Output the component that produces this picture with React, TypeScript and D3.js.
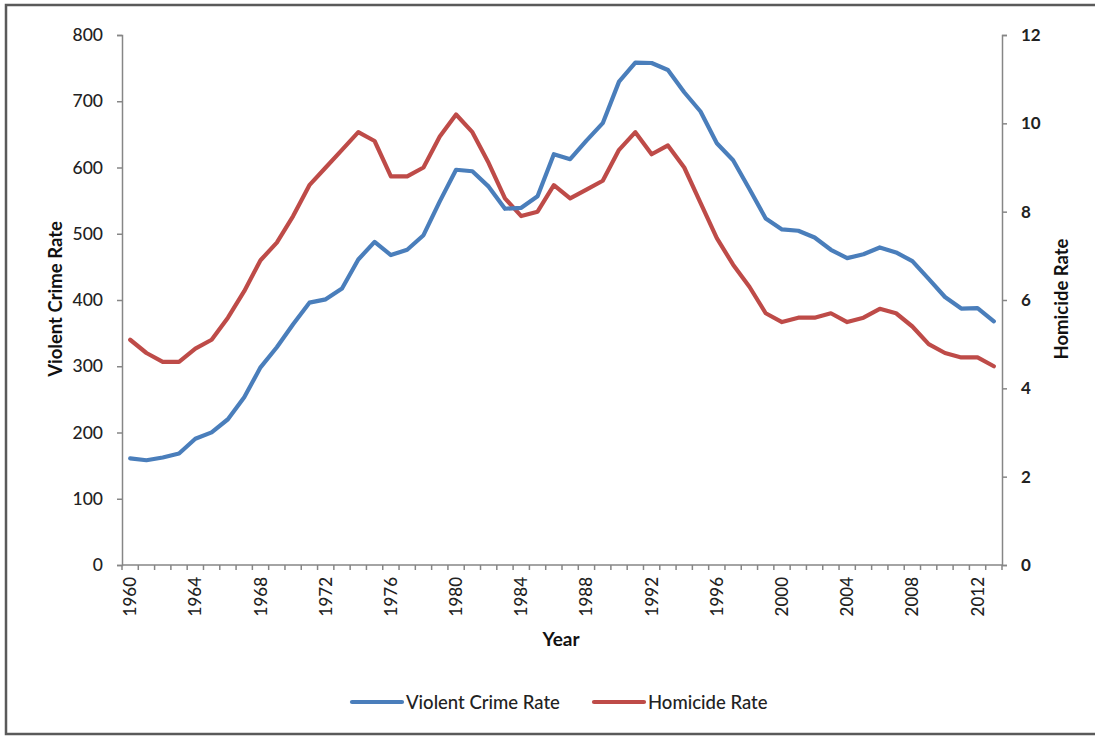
import React, { useRef, useEffect } from 'react';
import * as d3 from 'd3';

// US violent crime and homicide rates per 100,000
const years = d3.range(1960, 2014);
const violentCrime = [
  160.9, 158.1, 162.3, 168.2, 190.6, 200.2, 220.0, 253.2, 298.4, 328.7,
  363.5, 396.0, 401.0, 417.4, 461.1, 487.8, 467.8, 475.9, 497.8, 548.9,
  596.6, 594.3, 571.1, 537.7, 539.2, 556.6, 620.1, 612.5, 640.6, 666.9,
  729.6, 758.2, 757.7, 747.1, 713.6, 684.5, 636.6, 611.0, 567.6, 523.0,
  506.5, 504.5, 494.4, 475.8, 463.2, 469.0, 479.3, 471.8, 458.6, 431.9,
  404.5, 387.1, 387.8, 367.9,
];
const homicide = [
  5.1, 4.8, 4.6, 4.6, 4.9, 5.1, 5.6, 6.2, 6.9, 7.3,
  7.9, 8.6, 9.0, 9.4, 9.8, 9.6, 8.8, 8.8, 9.0, 9.7,
  10.2, 9.8, 9.1, 8.3, 7.9, 8.0, 8.6, 8.3, 8.5, 8.7,
  9.4, 9.8, 9.3, 9.5, 9.0, 8.2, 7.4, 6.8, 6.3, 5.7,
  5.5, 5.6, 5.6, 5.7, 5.5, 5.6, 5.8, 5.7, 5.4, 5.0,
  4.8, 4.7, 4.7, 4.5,
];
const leftTicks = [0, 100, 200, 300, 400, 500, 600, 700, 800];
const rightTicks = [0, 2, 4, 6, 8, 10, 12];
const yearLabels = years.filter(y => (y - 1960) % 4 === 0);

const BLUE = '#4a7ebb';
const RED = '#be4b48';
const AXIS = '#868686';
const FONT = 'Lato, "Open Sans", sans-serif';

export default function App() {
  const svgRef = useRef(null);

  useEffect(() => {
    const svg = d3.select(svgRef.current);
    svg.selectAll('*').remove();

    const left = 122, right = 1002, top = 35, bottom = 565;

    const x = d3.scaleBand().domain(years.map(String)).range([left, right]).padding(0);
    const cx = (y) => x(String(y)) + x.bandwidth() / 2;
    const yL = d3.scaleLinear().domain([0, 800]).range([bottom, top]);
    const yR = d3.scaleLinear().domain([0, 12]).range([bottom, top]);

    // frame
    svg.append('rect')
      .attr('x', 6).attr('y', 5).attr('width', 1100).attr('height', 729)
      .attr('fill', 'white').attr('stroke', '#5a5a5a').attr('stroke-width', 2.5);

    // left axis
    const gl = svg.append('g').attr('transform', `translate(${left},0)`)
      .call(d3.axisLeft(yL).tickValues(leftTicks).tickSize(5).tickPadding(14));
    gl.select('.domain').attr('stroke', AXIS).attr('stroke-width', 1.5);
    gl.selectAll('.tick line').attr('stroke', AXIS).attr('stroke-width', 1.5);
    gl.selectAll('.tick text').attr('font-family', FONT).attr('font-size', 17.5)
      .attr('fill', '#222').attr('font-weight', 500);

    // right axis
    const gr = svg.append('g').attr('transform', `translate(${right},0)`)
      .call(d3.axisRight(yR).tickValues(rightTicks).tickSize(5).tickPadding(14));
    gr.select('.domain').attr('stroke', AXIS).attr('stroke-width', 1.5);
    gr.selectAll('.tick line').attr('stroke', AXIS).attr('stroke-width', 1.5);
    gr.selectAll('.tick text').attr('font-family', FONT).attr('font-size', 17)
      .attr('fill', '#222').attr('font-weight', 700);

    // x axis with ticks at category boundaries
    const gx = svg.append('g');
    gx.append('line')
      .attr('x1', left).attr('x2', right).attr('y1', bottom).attr('y2', bottom)
      .attr('stroke', AXIS).attr('stroke-width', 1.5);
    gx.selectAll('line.tk')
      .data(years.concat([2014]))
      .enter().append('line')
      .attr('class', 'tk')
      .attr('x1', d => d === 2014 ? right : x(String(d)))
      .attr('x2', d => d === 2014 ? right : x(String(d)))
      .attr('y1', bottom).attr('y2', bottom + 5)
      .attr('stroke', AXIS).attr('stroke-width', 1.5);
    gx.selectAll('text')
      .data(yearLabels)
      .enter().append('text')
      .attr('transform', d => `translate(${cx(d) + 6},${bottom + 12}) rotate(-90)`)
      .attr('text-anchor', 'end')
      .attr('font-family', FONT).attr('font-size', 17).attr('font-weight', 500)
      .attr('fill', '#222')
      .text(d => d);

    // lines
    const lineL = d3.line().x((d, i) => cx(years[i])).y(d => yL(d));
    const lineR = d3.line().x((d, i) => cx(years[i])).y(d => yR(d));

    svg.append('path').datum(homicide)
      .attr('d', lineR).attr('fill', 'none').attr('stroke', RED)
      .attr('stroke-width', 4.2).attr('stroke-linejoin', 'round').attr('stroke-linecap', 'round');
    svg.append('path').datum(violentCrime)
      .attr('d', lineL).attr('fill', 'none').attr('stroke', BLUE)
      .attr('stroke-width', 4.2).attr('stroke-linejoin', 'round').attr('stroke-linecap', 'round');

    // axis titles
    svg.append('text')
      .attr('x', 561).attr('y', 646).attr('text-anchor', 'middle')
      .attr('font-family', FONT).attr('font-size', 19).attr('font-weight', 700)
      .attr('fill', '#111').text('Year');
    svg.append('text')
      .attr('transform', 'translate(62,299) rotate(-90)').attr('text-anchor', 'middle')
      .attr('font-family', FONT).attr('font-size', 18.5).attr('font-weight', 700)
      .attr('fill', '#111').text('Violent Crime Rate');
    svg.append('text')
      .attr('transform', 'translate(1068,299) rotate(-90)').attr('text-anchor', 'middle')
      .attr('font-family', FONT).attr('font-size', 18.5).attr('font-weight', 700)
      .attr('fill', '#111').text('Homicide Rate');

    // legend
    const legendData = [
      { color: BLUE, text: 'Violent Crime Rate', x: 352 },
      { color: RED, text: 'Homicide Rate', x: 594 },
    ];
    const legend = svg.selectAll('.legend')
      .data(legendData)
      .enter().append('g')
      .attr('class', 'legend')
      .attr('transform', d => `translate(${d.x},702)`);
    legend.append('line')
      .attr('x1', 0).attr('x2', 50).attr('y1', 0).attr('y2', 0)
      .attr('stroke', d => d.color).attr('stroke-width', 4.2).attr('stroke-linecap', 'round');
    legend.append('text')
      .attr('x', 54).attr('y', 7)
      .attr('font-family', FONT).attr('font-size', 18.5).attr('font-weight', 500)
      .attr('fill', '#222')
      .text(d => d.text);

    return () => {
      d3.select(svgRef.current).selectAll('*').remove();
    };
  }, []);

  return (
    <svg ref={svgRef} width={1095} height={736}
      style={{ position: 'absolute', left: 0, top: 0, background: 'white' }} />
  );
}
